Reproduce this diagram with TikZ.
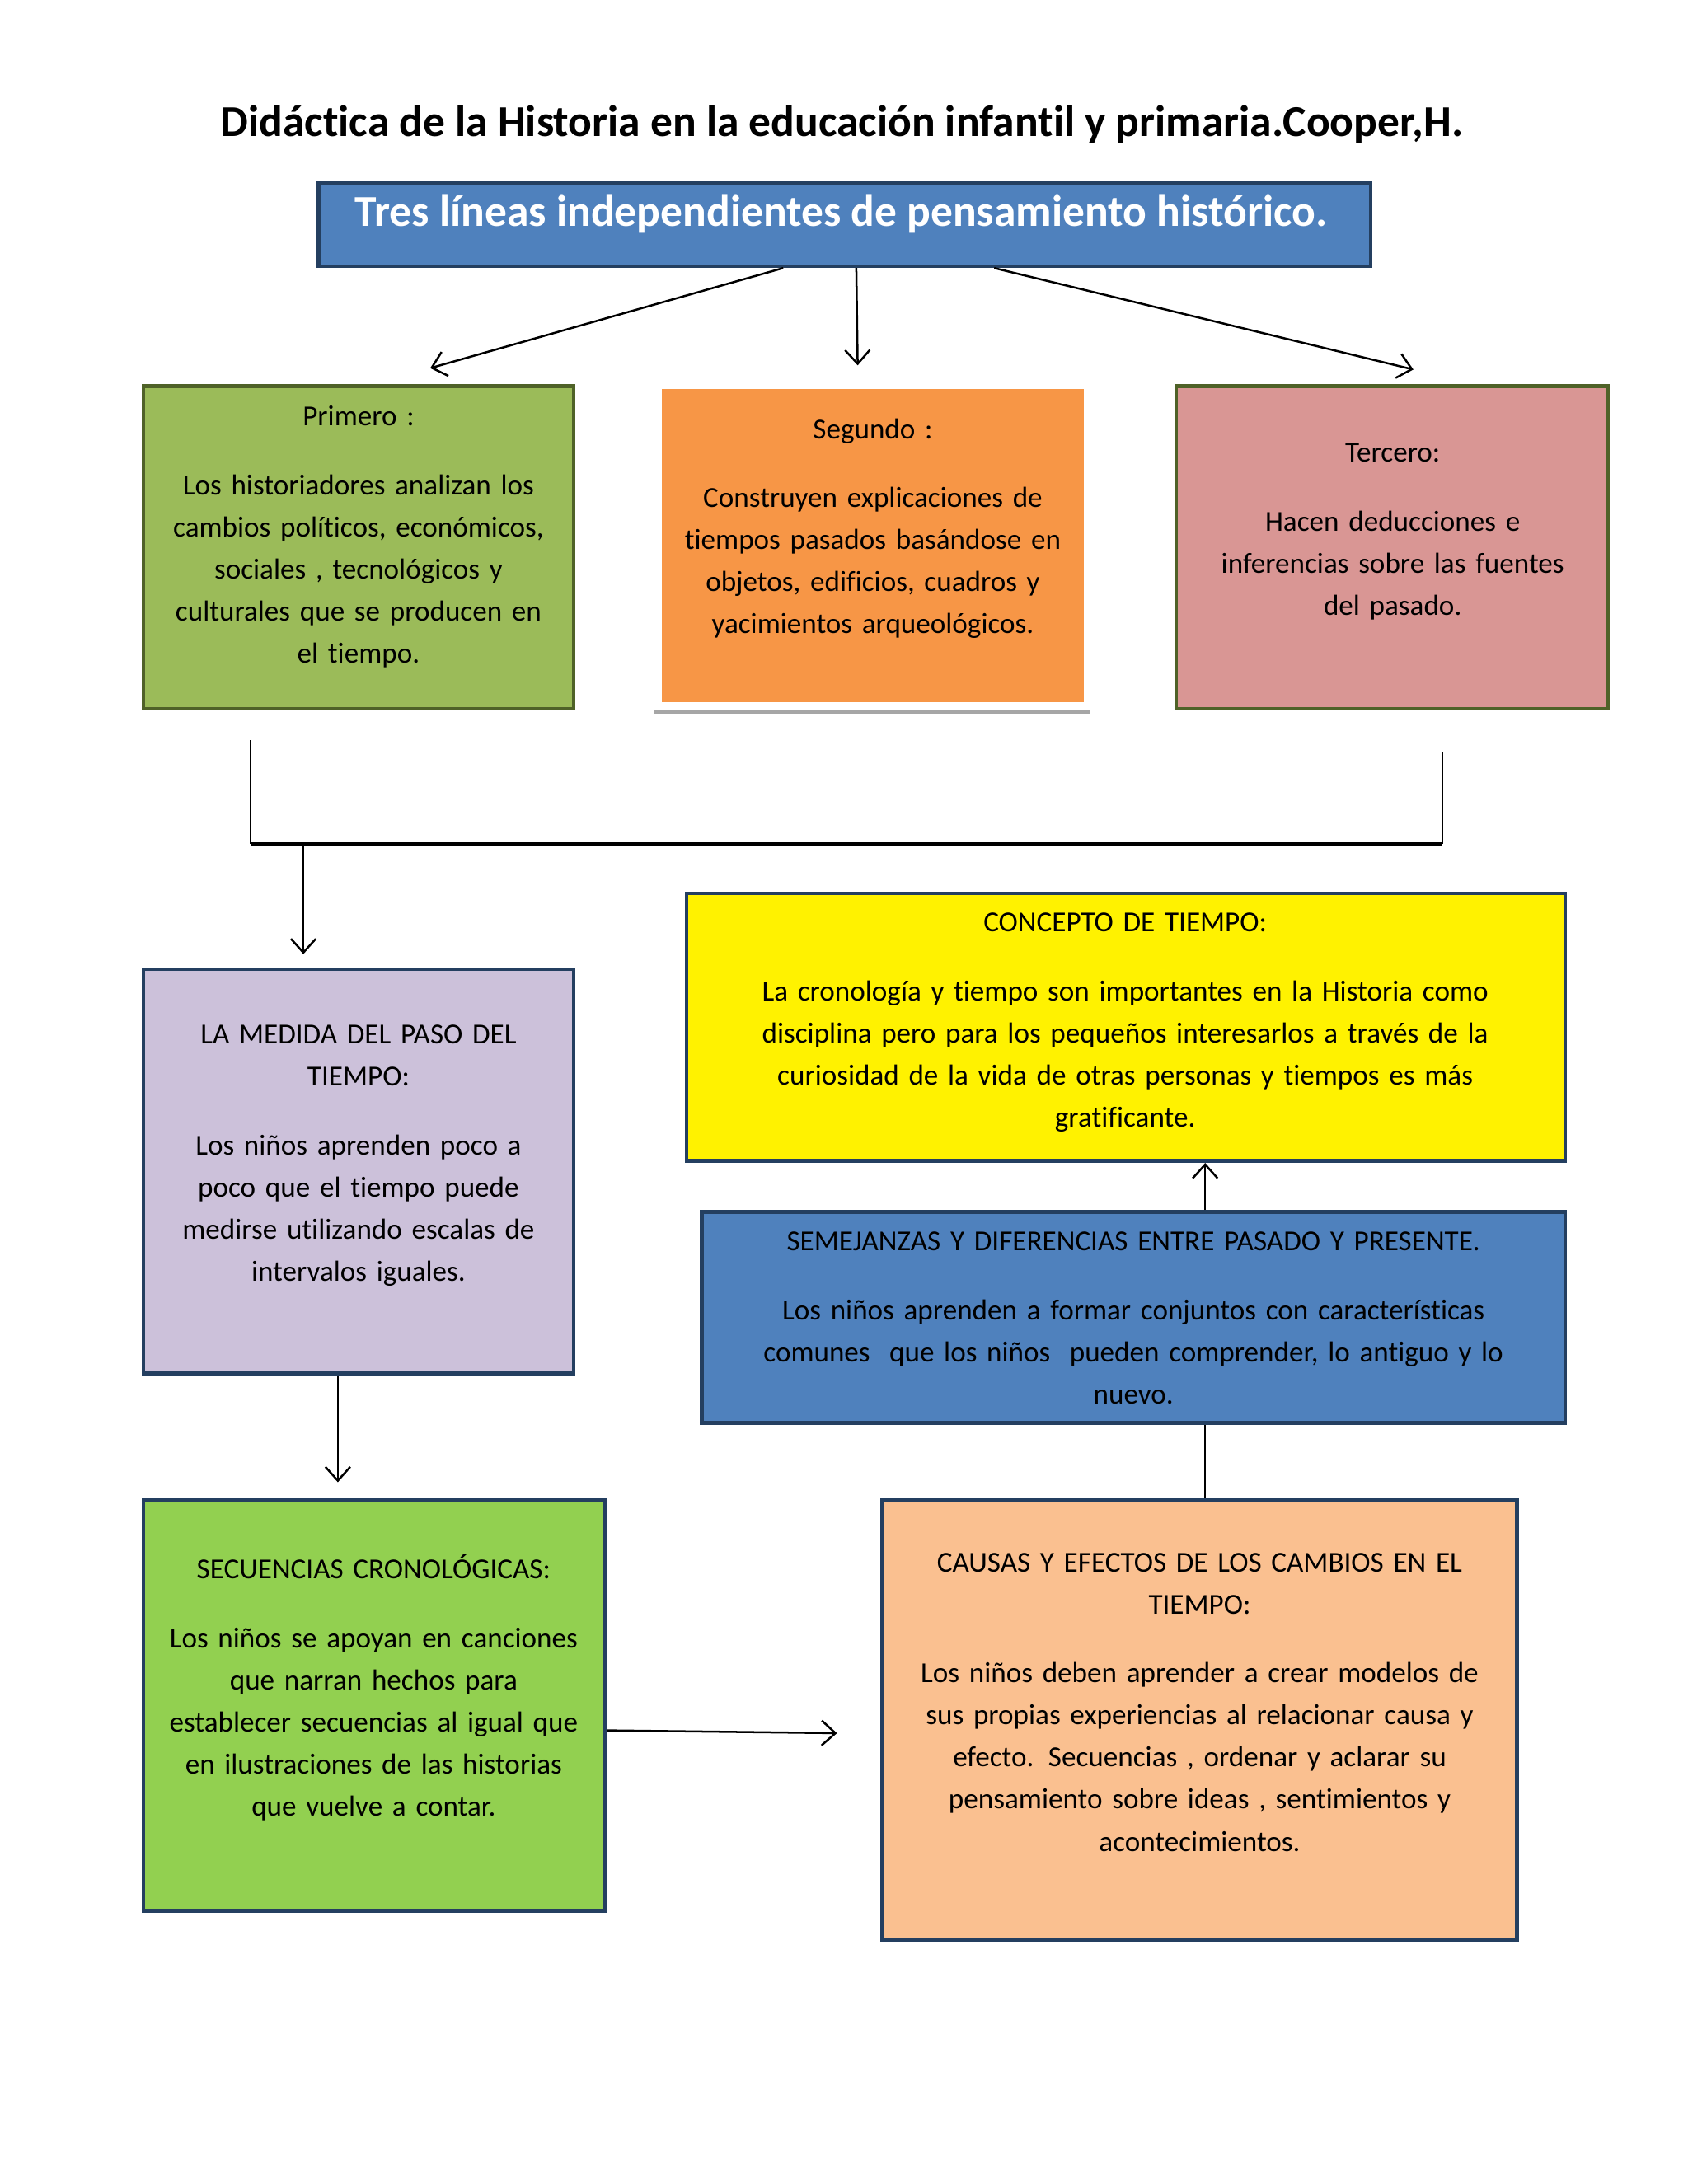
\documentclass[tikz,border=0pt]{standalone}
\usepackage{fontspec}
\setmainfont{Carlito}[Ligatures=NoCommon]
\usetikzlibrary{calc,positioning,arrows.meta}
\definecolor{cabblue}{HTML}{4F81BD}
\definecolor{dkblue}{HTML}{243F60}
\definecolor{dkgreen}{HTML}{4F6228}
\definecolor{olivegr}{HTML}{9BBB59}
\definecolor{orng}{HTML}{F79646}
\definecolor{rosa}{HTML}{D99694}
\definecolor{lila}{HTML}{CCC1DA}
\definecolor{verde}{HTML}{92D050}
\definecolor{melon}{HTML}{FAC090}
\tikzset{%
  cbox/.style={draw=dkblue,line width=1.4pt,shape=rectangle,inner sep=0},
  ctext/.style={inner sep=0,anchor=base,align=center,text width=#1,
    font=\fontsize{10.5}{15.25}\selectfont},
  ctext/.default=170pt,
  carrow/.style={draw=black,line width=0.75pt,-{Straight Barb[length=5pt,width=9pt]}},
  cline/.style={draw=black,line width=0.75pt}
}
\begin{document}
\begin{tikzpicture}[x=0.5pt,y=-0.5pt]
    \useasboundingbox (0,0) rectangle (1224,1584);
    % titulo y cabecera
    \node[inner sep=0,anchor=base,font=\fontsize{16}{19}\selectfont\bfseries] (titulo) at (610.5,99)
      {Didáctica de la Historia en la educación infantil y primaria.Cooper,H.};
    \node[cbox,fill=cabblue,minimum width=381.5pt,minimum height=30pt] (cab) at (612.5,163) {};
    \node[inner sep=0,anchor=base,text=white,font=\fontsize{16}{19}\selectfont\bfseries] (cabt) at (610,164)
      {Tres líneas independientes de pensamiento histórico.};
    % tres cajas
    \path
      (260,397) node[cbox,draw=dkgreen,fill=olivegr,minimum width=156pt,minimum height=117pt] (prim) {}
      (633,395.5) node[cbox,draw=none,fill=orng,minimum width=153pt,minimum height=113.5pt] (seg) {}
      (1009.5,397) node[cbox,draw=dkgreen,fill=rosa,minimum width=156.5pt,minimum height=117pt] (terc) {};
    \draw[line width=1.5pt,draw=black!35] (474,516) -- (791,516);
    \node[ctext] (primt) at (260,309) {Primero :\\[9.75pt]
      Los historiadores analizan los\\ cambios políticos, económicos,\\ sociales , tecnológicos y\\
      culturales que se producen en\\ el tiempo.};
    \node[ctext] (segt) at (633,318) {Segundo :\\[9.75pt]
      Construyen explicaciones de\\ tiempos pasados basándose en\\ objetos, edificios, cuadros y\\
      yacimientos arqueológicos.};
    \node[ctext] (terct) at (1010,335) {Tercero:\\[9.75pt]
      Hacen deducciones e\\ inferencias sobre las fuentes\\ del pasado.};
    % cajas de abajo
    \path
      (260,849.5) node[cbox,fill=lila,minimum width=156pt,minimum height=146.5pt] (medida) {}
      (271.5,1237) node[cbox,fill=verde,minimum width=167.5pt,minimum height=149pt] (secu) {}
      (870,1247.5) node[cbox,fill=melon,minimum width=230pt,minimum height=159.5pt] (causas) {}
      (822,955.5) node[cbox,fill=cabblue,minimum width=313pt,minimum height=76.5pt] (semej) {}
      (816.5,745) node[cbox,fill=yellow,minimum width=318.5pt,minimum height=97pt] (concep) {};
    \node[ctext] (medidat) at (260,757) {LA MEDIDA DEL PASO DEL\\ TIEMPO:\\[9.75pt]
      Los niños aprenden poco a\\ poco que el tiempo puede\\ medirse utilizando escalas de\\
      intervalos iguales.};
    \node[ctext=180pt] (secut) at (271,1145) {SECUENCIAS CRONOLÓGICAS:\\[9.75pt]
      Los niños se apoyan en canciones\\ que narran hechos para\\ establecer secuencias al igual que\\
      en ilustraciones de las historias\\ que vuelve a contar.};
    \node[ctext=225pt] (causast) at (870,1140) {CAUSAS Y EFECTOS DE LOS CAMBIOS EN EL\\ TIEMPO:\\[9.75pt]
      Los niños deben aprender a crear modelos de\\ sus propias experiencias al relacionar causa y\\
      efecto. Secuencias , ordenar y aclarar su\\ pensamiento sobre ideas , sentimientos y\\
      acontecimientos.};
    \node[ctext=310pt] (semejt) at (822,907) {SEMEJANZAS Y DIFERENCIAS ENTRE PASADO Y PRESENTE.\\[9.75pt]
      Los niños aprenden a formar conjuntos con características\\
      comunes\ \ que los niños\ \ pueden comprender, lo antiguo y lo\\ nuevo.};
    \node[ctext=315pt] (concept) at (816,676) {CONCEPTO DE TIEMPO:\\[9.75pt]
      La cronología y tiempo son importantes en la Historia como\\
      disciplina pero para los pequeños interesarlos a través de la\\
      curiosidad de la vida de otras personas y tiempos es más\\ gratificante.};
    % extremos libres
    \coordinate (p1) at (312,267);
    \coordinate (p2) at (622,265);
    \coordinate (p3) at (1025,268);
    \coordinate (q1) at (182,537);
    \coordinate (qm) at (182,612);
    \coordinate (q2) at (1046,546);
    \coordinate (r1) at (220,692);
    \coordinate (r2) at (245,1075);
    \coordinate (r3) at (607,1257);
    % conectores
    \draw[carrow] (568,0 |- cab.south) -- (p1);
    \draw[carrow] (621,0 |- cab.south) -- (p2);
    \draw[carrow] (721,0 |- cab.south) -- (p3);
    \draw[cline,line width=0.6pt] (q1) -- (qm);
    \draw[cline,line width=1pt] (qm) -- (qm -| q2);
    \draw[cline,line width=0.6pt] (qm -| q2) -- (q2);
    \draw[carrow] (220,0 |- qm) -- (r1);
    \draw[carrow] (245,0 |- medida.south) -- (r2);
    \draw[carrow] (secu.east |- 0,1255) -- (r3);
    \draw[cline] (874,0 |- causas.north) -- (874,0 |- semej.south);
    \draw[carrow] (874,0 |- semej.north) -- (874,0 |- concep.south);
  \end{tikzpicture}
\end{document}
